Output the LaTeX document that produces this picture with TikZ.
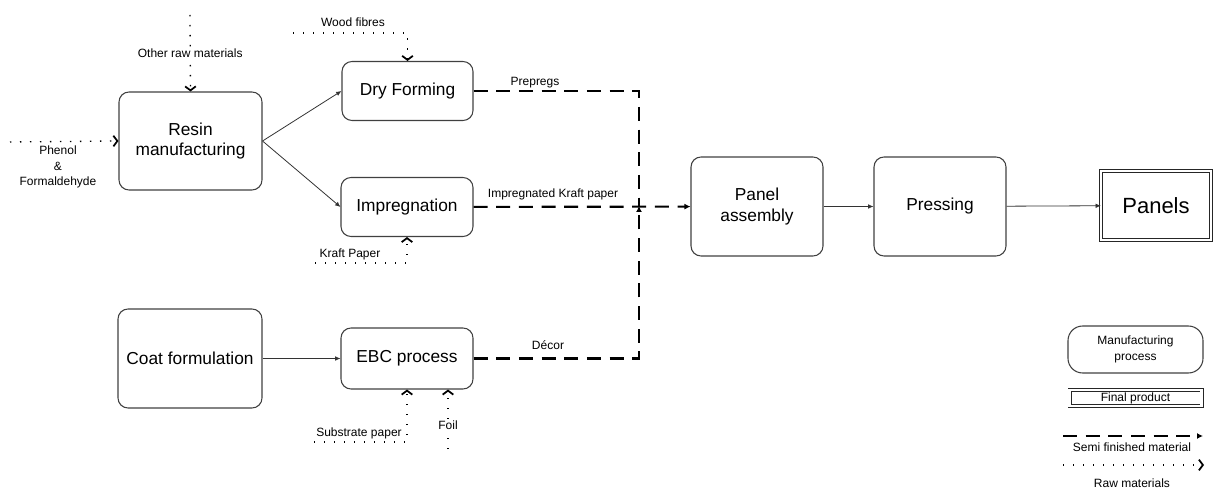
\documentclass[tikz,border=0pt]{standalone}
\usepackage{fontspec}
\setmainfont{Liberation Sans}
\usetikzlibrary{arrows.meta,positioning}
\tikzset{proc/.style={rectangle, rounded corners=7.5pt, draw=black!75, line width=0.8pt, align=center, inner sep=0pt, font=\fontsize{13}{15.5}\selectfont},
	final/.style={rectangle, draw=black!85, double, double distance=1.6pt, line width=0.7pt, align=center, inner sep=0pt, font=\fontsize{16.5}{19}\selectfont},
	flow/.style={draw=black!80, line width=0.6pt, -{Latex[length=4pt,width=3.5pt]}},
	semi/.style={draw=black, line width=1.6pt, dash pattern=on 10.5pt off 6.5pt, -{Latex[length=4.5pt,width=4.5pt]}},
	raw/.style={draw=black, line width=1pt, dash pattern=on 1pt off 6.5pt, -{Straight Barb[length=3pt,width=8pt,line width=1.3pt]}},
	lbl/.style={font=\fontsize{9}{11.5}\selectfont, inner sep=1pt, align=center}}
\begin{document}
\begin{tikzpicture}[x=0.75pt,y=-0.75pt]
	\useasboundingbox (0,0) rectangle (1215,499);
	% process boxes
	\node[proc, minimum width=107.25pt, minimum height=73.5pt] (resin) at (190.5,141) {Resin\\manufacturing};
	\node[proc, minimum width=98.25pt, minimum height=44.25pt] (dry) at (407.5,91) {Dry Forming};
	\node[proc, minimum width=99pt, minimum height=44.25pt] (impreg) at (407,207) {Impregnation};
	\node[proc, minimum width=108pt, minimum height=74.25pt] (coat) at (190,358.5) {Coat formulation};
	\node[proc, minimum width=99pt, minimum height=45.75pt] (ebc) at (407,358.5) {EBC process};
	\node[proc, minimum width=99pt, minimum height=74.25pt] (panel) at (757,206.5) {Panel\\assembly};
	\node[proc, minimum width=99pt, minimum height=74.25pt] (press) at (940,206.5) {Pressing};
	\node[final, minimum width=82pt, minimum height=52pt] (panels) at (1156,205.5) {Panels};
	% solid flows
	\draw[flow] (resin.east) -- (dry.west);
	\draw[flow] (resin.east) -- (impreg.west);
	\draw[flow] (coat) -- (ebc);
	\draw[flow] (panel) -- (press);
	\draw[flow] (press) -- (panels);
	% semi finished material
	\coordinate (jn) at (639,206);
	\draw[semi, -] (dry.east) -| (jn);
	\draw[semi] (ebc.east) -| (jn);
	\draw[semi] (impreg) -- (panel);
	\node[lbl] (lprep) at (535,83) {Prepregs};
	\node[lbl] (limp) at (553,194) {Impregnated Kraft paper};
	\node[lbl] (ldec) at (548,345) {Décor};
	% raw materials
	\coordinate (orm) at (190,15);
	\coordinate (wf) at (293,33);
	\coordinate (ph) at (10,142);
	\coordinate (kp) at (315,263);
	\coordinate (sp) at (314,442);
	\coordinate (fo) at (448,449);
	\draw[raw] (orm) -- (resin.north) node[lbl, fill=white, pos=0.5] (lorm) {Other raw materials};
	\draw[raw] (wf) -| (dry.north);
	\draw[raw] (ph) -- (resin.west);
	\draw[raw] (kp) -| (impreg.south);
	\draw[raw] (sp) -| (ebc.south);
	\draw[raw] (fo) -- (fo |- ebc.south) node[lbl, fill=white, pos=0.4] (lfoil) {Foil};
	\node[lbl] (lwf) at (353,22) {Wood fibres};
	\node[lbl] (lph) at (58,167) {Phenol\\\&\\Formaldehyde};
	\node[lbl] (lkp) at (350,254) {Kraft Paper};
	\node[lbl] (lsp) at (359,433) {Substrate paper};
	% legend
	\node[proc, rounded corners=11pt, minimum width=101.25pt, minimum height=35.25pt, font=\fontsize{9}{11.5}\selectfont] (lgproc) at (1135.5,349.5) {Manufacturing\\process};
	\node[final, minimum width=99pt, minimum height=11.5pt, font=\fontsize{9}{11}\selectfont] (lgfin) at (1135.5,398) {Final product};
	\coordinate (ls1) at (1063,436);
	\coordinate (ls2) at (1203,436);
	\coordinate (lr1) at (1063,465);
	\coordinate (lr2) at (1204,465);
	\draw[semi] (ls1) -- (ls2);
	\draw[raw] (lr1) -- (lr2);
	\node[lbl] (lgsemi) at (1132,447) {Semi finished material};
	\node[lbl] (lgraw) at (1132,483) {Raw materials};
\end{tikzpicture}
\end{document}
